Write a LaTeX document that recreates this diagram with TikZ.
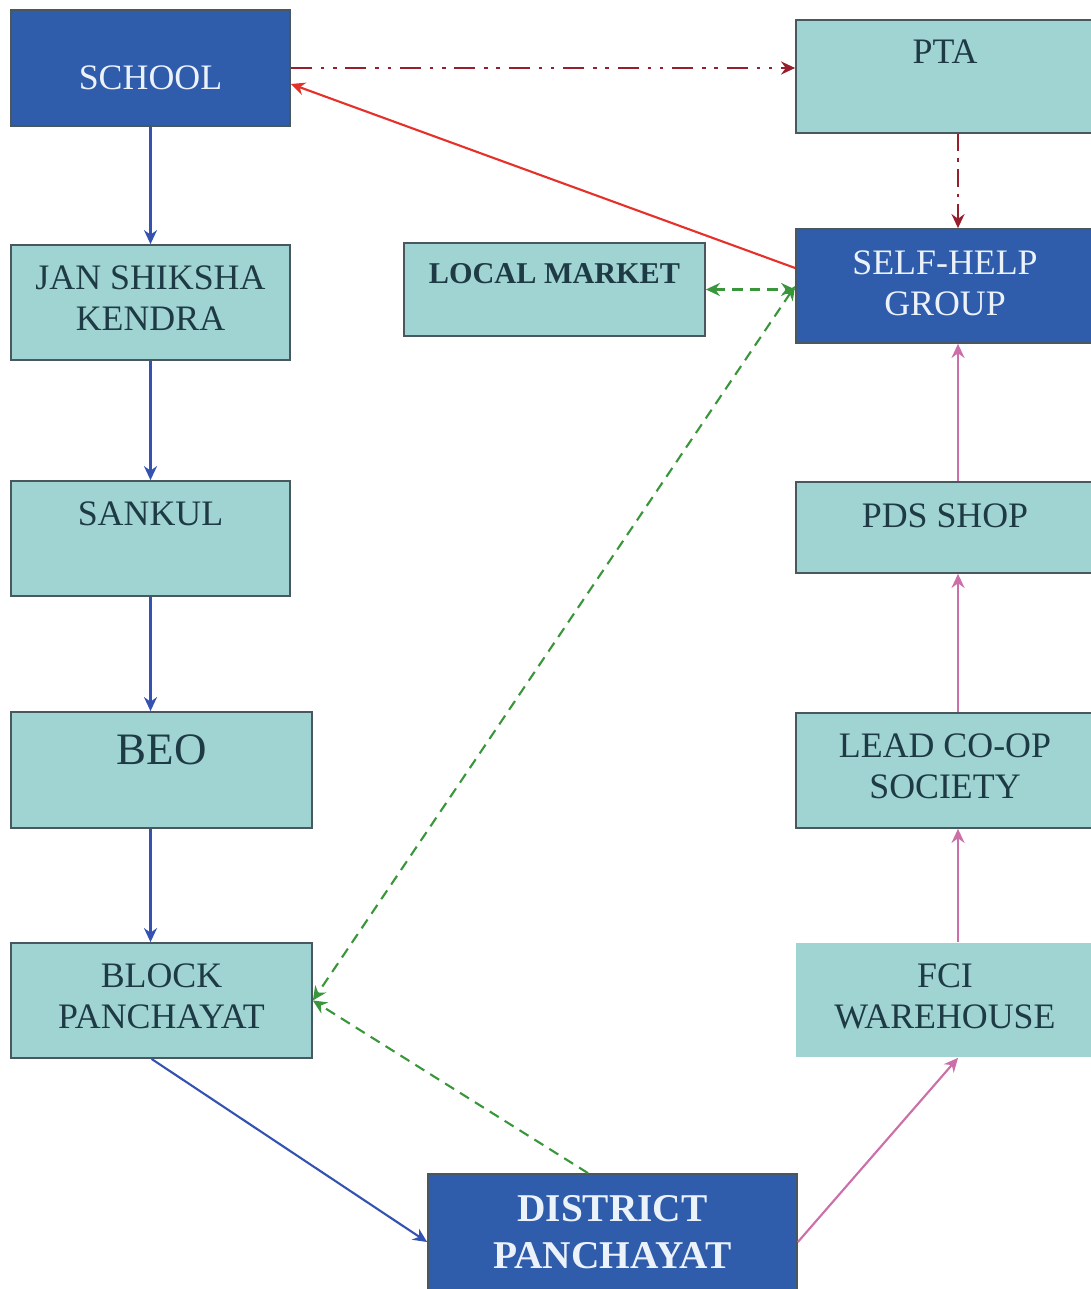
\documentclass[tikz,border=0pt]{standalone}
\usepackage{fontspec}
\setmainfont{Liberation Serif}
\usetikzlibrary{positioning, arrows.meta}

\definecolor{tealbox}{RGB}{160,212,211}
\definecolor{navybox}{RGB}{47,92,171}
\definecolor{edgegray}{RGB}{72,88,94}
\definecolor{inkdark}{RGB}{30,58,68}
\definecolor{inklight}{RGB}{236,242,250}
\definecolor{flowblue}{RGB}{52,82,178}
\definecolor{flowpink}{RGB}{204,110,168}
\definecolor{flowred}{RGB}{230,48,42}
\definecolor{flowmaroon}{RGB}{150,30,45}
\definecolor{flowgreen}{RGB}{58,150,58}

\begin{document}
\begin{tikzpicture}[
  x=0.1mm, y=-0.1mm,
  node distance=2mm,
  box/.style={draw=edgegray, line width=0.5pt, inner sep=0pt},
  light/.style={box, fill=tealbox},
  dark/.style={box, fill=navybox},
  lbl/.style={inner sep=0pt, align=center, text=inkdark, font=\fontsize{10.2pt}{11.8pt}\selectfont},
  wlbl/.style={lbl, text=inklight},
  arrow/.style={-{Stealth[length=1.4mm, width=1.3mm]}, line width=0.6pt},
  down/.style={arrow, flowblue},
  supply/.style={arrow, flowpink},
  report/.style={arrow, flowred},
  meet/.style={arrow, flowmaroon},
  trade/.style={arrow, flowgreen, dash pattern=on 3pt off 2pt}
]
\useasboundingbox (0,0) rectangle (1091,1289);
\fill[white] (0,0) rectangle (1091,1289);

% boxes
\node[dark, minimum width=27.9mm, minimum height=11.6mm] (school) at (150.5,68) {};
\node[light, minimum width=29.8mm, minimum height=11.3mm] (pta) at (945,76.5) {};
\node[light, minimum width=27.9mm, minimum height=11.5mm] (jsk) at (150.5,302.5) {};
\node[light, minimum width=30.1mm, minimum height=9.3mm] (market) at (554.5,289.5) {};
\node[dark, minimum width=29.8mm, minimum height=11.4mm] (shg) at (945,286) {};
\node[light, minimum width=27.9mm, minimum height=11.5mm] (sankul) at (150.5,538.5) {};
\node[light, minimum width=29.8mm, minimum height=9.1mm] (pds) at (945,527.5) {};
\node[light, minimum width=30.1mm, minimum height=11.6mm] (beo) at (161.5,770) {};
\node[light, minimum width=29.8mm, minimum height=11.5mm] (coop) at (945,770.5) {};
\node[light, minimum width=30.1mm, minimum height=11.5mm] (block) at (161.5,1000.5) {};
\node[light, draw=none, minimum width=29.8mm, minimum height=11.4mm] (fci) at (945,1000) {};
\node[dark, minimum width=36.9mm, minimum height=11.8mm] (district) at (612.5,1233) {};

% texts
\node[wlbl, below=5.55mm of school.north] (school-t) {SCHOOL};
\node[lbl, below=2.05mm of pta.north] (pta-t) {PTA};
\node[lbl, below=2.05mm of jsk.north] (jsk-t) {JAN SHIKSHA\\KENDRA};
\node[lbl, font=\fontsize{8.6pt}{10pt}\selectfont\bfseries, below=2.1mm of market.north] (market-t) {LOCAL MARKET};
\node[wlbl, below=2.15mm of shg.north] (shg-t) {SELF-HELP\\GROUP};
\node[lbl, below=2.05mm of sankul.north] (sankul-t) {SANKUL};
\node[lbl, below=2.15mm of pds.north] (pds-t) {PDS SHOP};
\node[lbl, font=\fontsize{12.8pt}{15pt}\selectfont, below=2.3mm of beo.north] (beo-t) {BEO};
\node[lbl, below=2.05mm of coop.north] (coop-t) {LEAD CO-OP\\SOCIETY};
\node[lbl, below=2.05mm of block.north] (block-t) {BLOCK\\PANCHAYAT};
\node[lbl, below=2.05mm of fci.north] (fci-t) {FCI\\WAREHOUSE};
\node[wlbl, font=\fontsize{11.2pt}{13.4pt}\selectfont\bfseries, below=2.2mm of district.north] (district-t) {DISTRICT\\PANCHAYAT};

% education line
\draw[down] (school) -- (jsk);
\draw[down] (jsk) -- (sankul);
\draw[down] (sankul.south) -- (sankul.south |- beo.north);
\draw[down] (beo.south -| sankul.south) -- (block.north -| sankul.south);
\draw[down] ([xshift=-1mm]block.south) -- ([yshift=-0.9mm]district.west);

% supply line
\draw[supply] ([yshift=-0.9mm]district.east) -- ([xshift=1.3mm]fci.south);
\draw[supply] ([xshift=1.3mm]fci.north) -- ([xshift=1.3mm]coop.south);
\draw[supply] ([xshift=1.3mm]coop.north) -- ([xshift=1.3mm]pds.south);
\draw[supply] ([xshift=1.3mm]pds.north) -- ([xshift=1.3mm]shg.south);

% school and parents
\draw[meet, dash pattern=on 6pt off 2.5pt on 1pt off 2.5pt on 1pt off 2.5pt] (school.east) -- (school.east -| pta.west);
\draw[meet, dash pattern=on 5pt off 2pt on 1pt off 2pt] ([xshift=1.3mm]pta.south) -- ([xshift=1.3mm]shg.north);
\draw[report] ([yshift=1.8mm]shg.west) -- ([yshift=-1.6mm]school.east);

% market links
\draw[trade, {Stealth[length=1.4mm, width=1.3mm]}-{Stealth[length=1.4mm, width=1.3mm]}] (market.east) -- (market.east -| shg.west);
\draw[trade, {Stealth[length=1.4mm, width=1.3mm]}-{Stealth[length=1.4mm, width=1.3mm]}] (shg.west) -- (block.east);
\draw[trade] ([xshift=-2.45mm]district.north) -- (block.east);

\end{tikzpicture}
\end{document}
